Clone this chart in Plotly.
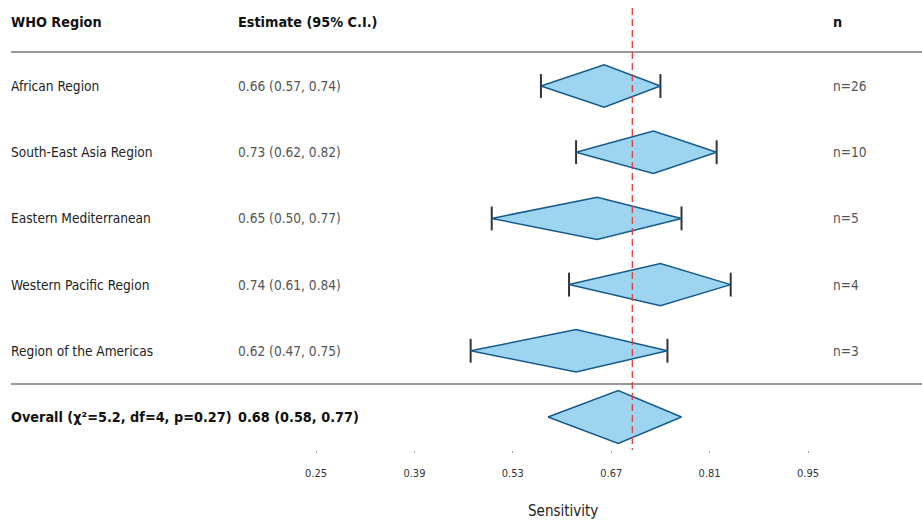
import plotly.graph_objects as go

# Forest plot data: pooled sensitivity by WHO region
regions = ["African Region", "South-East Asia Region", "Eastern Mediterranean",
           "Western Pacific Region", "Region of the Americas"]
estimates = [0.66, 0.73, 0.65, 0.74, 0.62]
ci_low = [0.57, 0.62, 0.50, 0.61, 0.47]
ci_high = [0.74, 0.82, 0.77, 0.84, 0.75]
n_studies = [26, 10, 5, 4, 3]

overall_label = "Overall (χ²=5.2, df=4, p=0.27)"
overall_est = 0.68
overall_low = 0.58
overall_high = 0.77

tick_vals = [0.25, 0.39, 0.53, 0.67, 0.81, 0.95]
reference_value = 0.70

FONT = "DejaVu Sans Condensed, DejaVu Sans, sans-serif"
W, H = 922, 520
FILL = "#9dd5f1"
EDGE = "#165a8a"

# x scale: 0.25 sits at 316 px, 0.14 per ~98.4 px, axis spans full width
px_per_unit = 702.9
x_min = 0.25 - 316 / px_per_unit
x_max = x_min + W / px_per_unit

# y scale in row units: region rows 1..5, overall = 6
row_px = 66.2
first_row_px = 86
plot_bottom = 450


def row_of(px):
    return (px - first_row_px) / row_px + 1


y_top = row_of(0)
y_bot = row_of(plot_bottom)
header_row = row_of(22)

fig = go.Figure()

half_h = 0.32
cap_h = 0.18
for i, (lo, est, hi) in enumerate(zip(ci_low, estimates, ci_high)):
    y = i + 1
    # whisker caps at the CI bounds
    for xv in (lo, hi):
        fig.add_trace(go.Scatter(x=[xv, xv], y=[y - cap_h, y + cap_h], mode="lines",
                                 line=dict(color="#333333", width=2),
                                 hoverinfo="skip", showlegend=False))
    fig.add_trace(go.Scatter(x=[lo, est, hi, est, lo], y=[y, y - half_h, y, y + half_h, y],
                             mode="lines", fill="toself", fillcolor=FILL,
                             line=dict(color=EDGE, width=1.5),
                             hoverinfo="skip", showlegend=False))

# overall diamond
oy = 6
oh = 0.40
fig.add_trace(go.Scatter(x=[overall_low, overall_est, overall_high, overall_est, overall_low],
                         y=[oy, oy - oh, oy, oy + oh, oy], mode="lines", fill="toself",
                         fillcolor=FILL, line=dict(color=EDGE, width=1.5),
                         hoverinfo="skip", showlegend=False))

# reference line
fig.add_trace(go.Scatter(x=[reference_value, reference_value], y=[row_of(8), y_bot],
                         mode="lines", line=dict(color="#e8393a", width=1.3, dash="7px,4px"),
                         hoverinfo="skip", showlegend=False))

annotations = []


def add_text(px_x, row, text, color="#222222", bold=False, size=13.6):
    annotations.append(dict(
        x=(px_x - 2) / W, xref="paper", y=row, yref="y", text=text, showarrow=False,
        xanchor="left", yanchor="middle",
        font=dict(family=FONT, size=size, color=color, weight="bold" if bold else "normal")))


add_text(11, header_row, "WHO Region", "#111111", True, 14.3)
add_text(238, header_row, "Estimate (95% C.I.)", "#111111", True, 14.3)
add_text(833, header_row, "n", "#111111", True, 14.3)
for i, name in enumerate(regions):
    add_text(11, i + 1, name, "#222222")
    add_text(238, i + 1, f"{estimates[i]:.2f} ({ci_low[i]:.2f}, {ci_high[i]:.2f})", "#555555")
    add_text(833, i + 1, f"n={n_studies[i]}", "#555555")
add_text(11, 6, overall_label, "#111111", True, 14.3)
add_text(238, 6, f"{overall_est:.2f} ({overall_low:.2f}, {overall_high:.2f})", "#111111", True, 14.3)

# x-axis title, centred under the estimate panel (paper y relative to plot area)
annotations.append(dict(x=563 / W, xref="paper",
                        y=(plot_bottom - 511) / plot_bottom, yref="paper",
                        yanchor="middle", xanchor="center", showarrow=False,
                        text="Sensitivity",
                        font=dict(family=FONT, size=15, color="#222222")))

shapes = []
for sep_px in (52, 384):
    sep_row = row_of(sep_px)
    shapes.append(dict(type="line", xref="paper", x0=11 / W, x1=1, yref="y",
                       y0=sep_row, y1=sep_row, line=dict(color="#777777", width=1.3),
                       layer="below"))

fig.update_layout(
    width=W, height=H,
    margin=dict(l=0, r=0, t=0, b=H - plot_bottom),
    paper_bgcolor="white", plot_bgcolor="white",
    annotations=annotations, shapes=shapes,
    xaxis=dict(range=[x_min, x_max], tickvals=tick_vals,
               ticktext=[f"{v:.2f}" for v in tick_vals],
               ticks="outside", ticklen=2, tickwidth=1, tickcolor="#aaaaaa",
               ticklabelstandoff=11,
               tickfont=dict(family=FONT, size=11, color="#333333"),
               showgrid=False, zeroline=False, showline=False),
    yaxis=dict(range=[y_bot, y_top], visible=False, showgrid=False, zeroline=False),
)

fig.write_html("out.html")
